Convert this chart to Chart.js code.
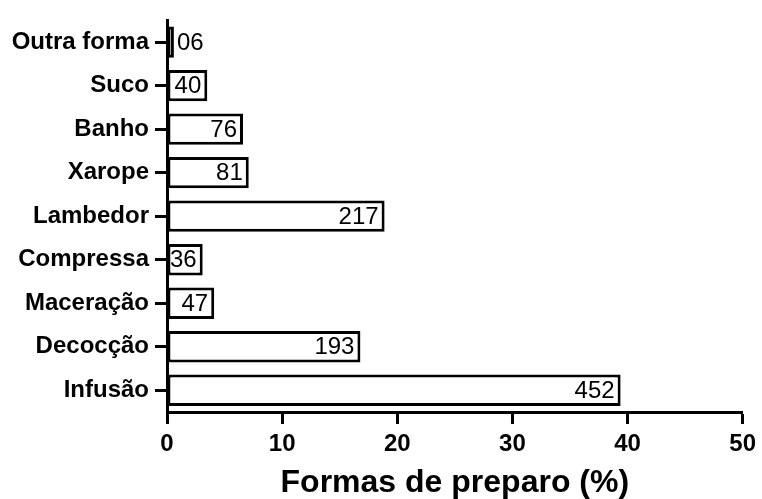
<!DOCTYPE html>
<html>
<head>
<meta charset="utf-8">
<script src="https://cdn.jsdelivr.net/npm/chart.js@4.4.1/dist/chart.umd.min.js"></script>
<style>
  html, body { margin: 0; padding: 0; background: #fff; }
  #wrap { width: 762px; height: 499px; }
</style>
</head>
<body>
<div id="wrap"><canvas id="grafico"></canvas></div>
<script>
// dados
const formas = ["Outra forma", "Suco", "Banho", "Xarope", "Lambedor",
    "Compressa", "Maceração", "Decocção", "Infusão"];
const percentuais = [0.6, 3.5, 6.6, 7.1, 18.9, 3.1, 4.1, 16.8, 39.4];
const contagens = ["06", "40", "76", "81", "217", "36", "47", "193", "452"];
const ticksX = [0, 10, 20, 30, 40, 50];

const FONTE = "'Liberation Sans', Arial, Helvetica, sans-serif";

// rótulo com a contagem dentro da barra (fora se não couber)
const rotulos = {
    id: "rotulos",
    afterDatasetsDraw(chart) {
        const ctx = chart.ctx;
        const meta = chart.getDatasetMeta(0);
        ctx.save();
        ctx.font = "24px " + FONTE;
        ctx.fillStyle = "#000";
        ctx.textBaseline = "middle";
        meta.data.forEach((bar, i) => {
            const txt = contagens[i];
            const w = ctx.measureText(txt).width;
            if (bar.x - 6 - w < bar.base + 2) {
                ctx.textAlign = "left";
                ctx.fillText(txt, bar.x + 3, bar.y + 1);
            } else {
                ctx.textAlign = "right";
                ctx.fillText(txt, bar.x - 6, bar.y + 1);
            }
        });
        ctx.restore();
    }
};

new Chart(document.getElementById("grafico"), {
    type: "bar",
    data: {
        labels: formas,
        datasets: [{
            data: percentuais,
            backgroundColor: "#fff",
            borderColor: "#000",
            borderWidth: 3,
            borderSkipped: false,
            barPercentage: 0.72,
            categoryPercentage: 1
        }]
    },
    options: {
        indexAxis: "y",
        responsive: true,
        maintainAspectRatio: false,
        animation: false,
        layout: { padding: { top: 11, right: 18, bottom: 0, left: 0 } },
        plugins: {
            legend: { display: false },
            tooltip: { enabled: false }
        },
        scales: {
            x: {
                min: 0,
                max: 50,
                afterBuildTicks: (s) => { s.ticks = ticksX.map(v => ({ value: v })); },
                afterFit: (s) => { s.height = 87; },
                border: { color: "#000", width: 3 },
                grid: {
                    drawOnChartArea: false,
                    tickLength: 12,
                    tickWidth: 3,
                    tickColor: "#000"
                },
                ticks: {
                    color: "#000",
                    padding: 6,
                    font: { family: FONTE, size: 24, weight: "bold" }
                },
                title: {
                    display: true,
                    text: "Formas de preparo (%)",
                    color: "#000",
                    padding: { top: 0, bottom: 0 },
                    font: { family: FONTE, size: 32, weight: "bold", lineHeight: 1.0 }
                }
            },
            y: {
                afterFit: (s) => { s.width = 167; },
                border: { color: "#000", width: 3 },
                grid: {
                    offset: false,
                    drawOnChartArea: false,
                    tickLength: 12,
                    tickWidth: 3,
                    tickColor: "#000"
                },
                ticks: {
                    color: "#000",
                    padding: 6,
                    font: { family: FONTE, size: 24, weight: "bold" }
                }
            }
        }
    },
    plugins: [rotulos]
});
</script>
</body>
</html>
